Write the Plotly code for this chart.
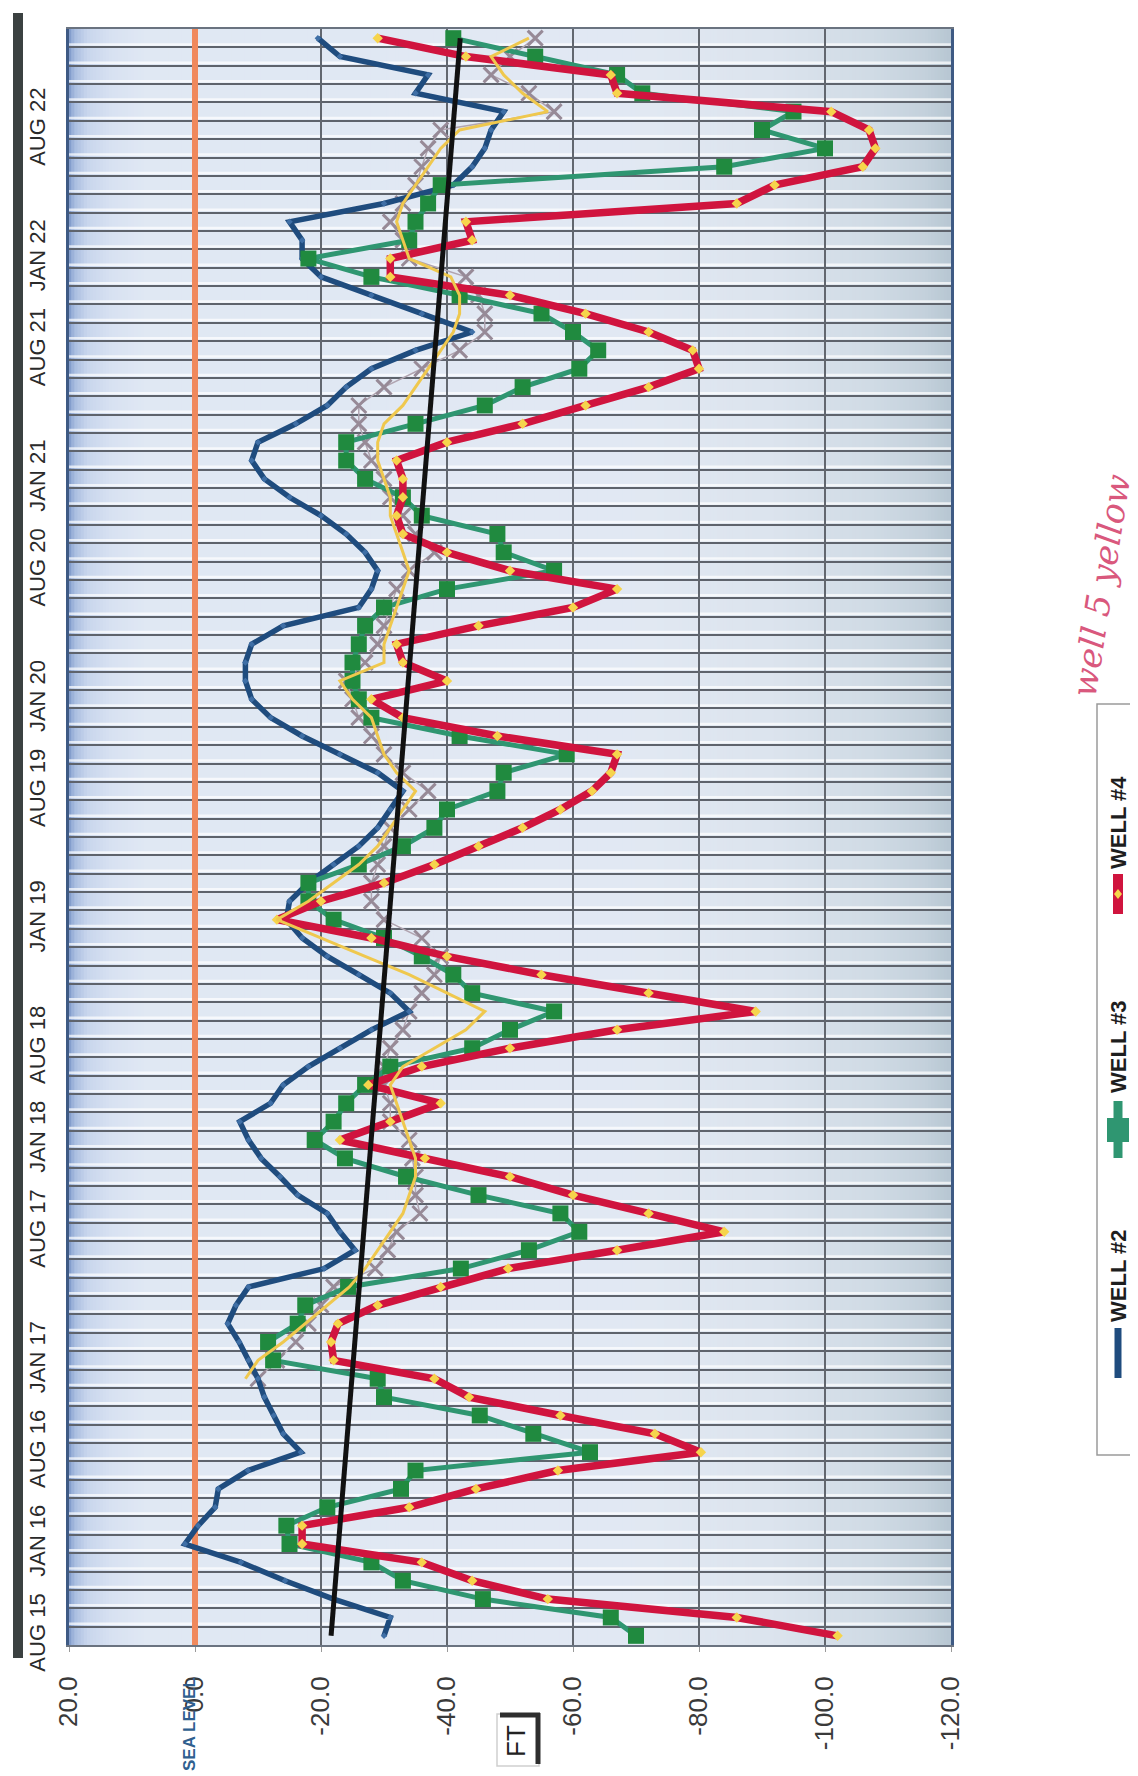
import plotly.graph_objects as go
import numpy as np

# ---------------- data ----------------
N_CAT = 88
CATEGORY = list(range(N_CAT))
DATE_TICK_POS = [0, 5, 10, 15, 22, 27, 32, 39, 46, 51, 58, 63, 70, 75, 82]
DATE_TICK_TEXT = ["AUG 15", "JAN 16", "AUG 16", "JAN 17", "AUG 17", "JAN 18", "AUG 18",
                  "JAN 19", "AUG 19", "JAN 20", "AUG 20", "JAN 21", "AUG 21", "JAN 22", "AUG 22"]
FT_TICKS = [20, 0, -20, -40, -60, -80, -100, -120]
FT_TICK_TEXT = ["20.0", "0.0", "-20.0", "-40.0", "-60.0", "-80.0", "-100.0", "-120.0"]

WELL_2 = [-30, -31, -22, -14.3, -7.3, 1.6, -0.5, -3.2, -3.7, -8.4,
          -16.8, -14, -12.5, -11, -10, -8.5, -7, -5.2, -6.5, -8.5,
          -20.5, -25.4, -23, -21, -16.3, -13.5, -10.5, -8.5, -7.1, -12,
          -14, -18, -23, -28, -34, -31, -26, -21, -17, -14.5,
          -15, -18, -22, -26, -29, -31, -33, -29, -23, -17,
          -12, -9, -8, -8, -9, -14, -26, -28, -29, -27,
          -24, -20, -15, -11, -9, -10, -16, -21, -24, -28,
          -35, -44, -36, -28, -20, -17, -17, -15, -30, -41,
          -44, -46, -47, -49, -35, -37, -23, -19.5]

WELL_3 = [-70, -66, -45.7, -33, -28, -15, -14.5, -21, -32.7, -35,
          -62.7, -53.7, -45.2, -30, -29, -12.4, -11.6, -16.3, -17.5, -24.3,
          -42.2, -53, -61, -58, -45, -33.5, -23.8, -19, -22, -24,
          -27, -31, -44, -50, -57, -44, -41, -36, -30, -22,
          -18, -18, -26, -33, -38, -40, -48, -49, -59, -42,
          -28, -26, -25, -25, -26, -27, -30, -40, -57, -49,
          -48, -36, -33, -27, -24, -24, -35, -46, -52, -61,
          -64, -60, -55, -42, -28, -18, -34, -35, -37, -39,
          -84, -100, -90, -95, -71, -67, -54, -41]

WELL_4 = [-102, -86, -56, -44, -36, -17, -17, -34, -44.6, -57.6,
          -80.3, -73, -58, -43.5, -38, -22, -21.6, -22.7, -29, -39,
          -49.7, -67, -84, -72, -60, -50, -36.5, -23, -31, -39,
          -27.5, -36, -50, -67, -89, -72, -55, -40, -28, -13,
          -20, -30, -38, -45, -52, -58, -63, -66, -67, -48,
          -33, -28, -40, -33, -32, -45, -60, -67, -50, -40,
          -33, -32, -33, -33, -32, -40, -52, -62, -72, -80,
          -79, -72, -62, -50, -31, -31, -44, -43, -86, -92,
          -106, -108, -107, -101, -67, -66, -43, -29]

WELL_5 = [None, None, None, None, None, None, None, None, None, None,
          None, None, None, None, -8, -10, -14, -17.5, -21, -24.5,
          -27, -29, -31, -33, -34, -35, -35, -34, -33, -32,
          -31, -33, -38, -43, -46, -40, -34, -27, -20, -13,
          -18, -22, -26, -29, -31, -33, -35, -32, -30, -29,
          -28, -25, -23, -30, -30, -31, -32, -33, -34, -33,
          -32, -31, -31, -30, -29, -29, -30, -33, -35, -37,
          -39, -41, -42, -42, -40.6, -34, -33, -32, -33, -35,
          -37, -39, -42, -56, -52, -49, -47, -53]

WELL_X = [None, None, None, None, None, None, None, None, None, None,
          None, None, None, None, -10, -13, -16, -18, -20, -22,
          -28.6, -30.6, -32, -35.7, -35, -35, -34.5, -34, -31, -31,
          -30, -30, -31, -33, -34, -36, -38, -39, -36, -30,
          -28, -28, -29, -30, -31, -34, -37, -33, -30, -28,
          -26, -25, -24, -27, -29, -30, -31, -32, -34, -38,
          -35, -33, -31, -30, -28, -27, -26, -26, -30, -36,
          -42, -46, -46, -45, -43, -34, -33, -31, -33, -35,
          -36, -37, -39, -57, -53, -47, -50, -54]

TREND_CAT = [0, 87]
TREND_VAL = [-21.6, -42.1]
SEA_LEVEL = 0.0

# ---------------- figure ----------------
W, H = 1138, 1776
L, R, T, B = 61, 195, 21, 139
PW, PH = W - L - R, H - T - B


def px2paper(xp, yp):
    return (xp - L) / PW, (H - B - yp) / PH


fig = go.Figure()

fig.add_trace(go.Scatter(x=[SEA_LEVEL, SEA_LEVEL], y=[-0.5, N_CAT], mode="lines",
                         line=dict(color="#f0895c", width=6), cliponaxis=False,
                         hoverinfo="skip"))
fig.add_trace(go.Scatter(x=WELL_X, y=CATEGORY, mode="lines+markers",
                         line=dict(color="#b0a4b0", width=1.5),
                         marker=dict(symbol="x-thin", size=15,
                                     line=dict(color="#978a97", width=3))))
fig.add_trace(go.Scatter(x=WELL_2, y=CATEGORY, mode="lines+markers", name="WELL #2",
                         line=dict(color="#1f4c7e", width=5.5),
                         marker=dict(symbol="diamond", size=5, color="#3f6fa6")))
fig.add_trace(go.Scatter(x=WELL_3, y=CATEGORY, mode="lines+markers", name="WELL #3",
                         line=dict(color="#2f9671", width=5),
                         marker=dict(symbol="square", size=16, color="#208a3f")))
fig.add_trace(go.Scatter(x=WELL_4, y=CATEGORY, mode="lines+markers", name="WELL #4",
                         line=dict(color="#d0143e", width=7.5),
                         marker=dict(symbol="diamond", size=8, color="#f6d44c")))
fig.add_trace(go.Scatter(x=WELL_5, y=CATEGORY, mode="lines",
                         line=dict(color="#efc84e", width=3)))
fig.add_trace(go.Scatter(x=TREND_VAL, y=TREND_CAT, mode="lines",
                         line=dict(color="#111111", width=5)))

shapes = []
# background gradient (style only)
stops_v = [20, 19, 17, 13, 8, -70, -92, -108, -116, -120]
stops_c = [(120, 148, 198), (168, 189, 224), (200, 214, 237), (216, 226, 242), (224, 232, 244),
           (226, 233, 243), (220, 228, 238), (208, 219, 229), (196, 209, 220), (184, 199, 211)]
edges = np.linspace(20, -120, 281)
for a, b in zip(edges[:-1], edges[1:]):
    m = (a + b) / 2
    col = [int(np.interp(-m, [-v for v in stops_v], [c[k] for c in stops_c])) for k in range(3)]
    shapes.append(dict(type="rect", xref="x", yref="paper", x0=a + 0.15, x1=b - 0.15, y0=0, y1=1,
                       layer="below", line=dict(width=0),
                       fillcolor="rgb(%d,%d,%d)" % tuple(col)))
for k in range(1, N_CAT):
    yy = k - 0.5 + 0.16
    shapes.append(dict(type="line", xref="paper", yref="y", x0=0, x1=1, y0=yy, y1=yy,
                       layer="below", line=dict(color="rgba(255,255,255,0.7)", width=2.5)))

# scanner edge bar
x0, y0 = px2paper(5, 5)
x1, y1 = px2paper(15, 1650)
shapes.append(dict(type="rect", xref="paper", yref="paper", x0=x0, x1=x1, y0=y1, y1=y0,
                   fillcolor="#3b4141", line=dict(width=0)))

# FT box
fx0, fy0 = px2paper(489, 1706)
fx1, fy1 = px2paper(531, 1758)
shapes.append(dict(type="rect", xref="paper", yref="paper", x0=fx0, x1=fx1, y0=fy1, y1=fy0,
                   fillcolor="white", line=dict(color="#cfcfcf", width=1.5)))
ax_, ay_ = px2paper(530, 1705)
bx_, by_ = px2paper(530, 1756)
shapes.append(dict(type="line", xref="paper", yref="paper", x0=ax_, x1=bx_, y0=ay_, y1=by_,
                   line=dict(color="#2e2e2e", width=5)))
cx_, cy_ = px2paper(492, 1707)
dx_, dy_ = px2paper(532, 1707)
shapes.append(dict(type="line", xref="paper", yref="paper", x0=cx_, x1=dx_, y0=cy_, y1=dy_,
                   line=dict(color="#2e2e2e", width=5)))

# legend box
lx0, ly0 = px2paper(1089, 696)
lx1, ly1 = px2paper(1130, 1447)
shapes.append(dict(type="rect", xref="paper", yref="paper", x0=lx0, x1=lx1, y0=ly1, y1=ly0,
                   fillcolor="white", line=dict(color="#9a9a9a", width=1.5)))


def vline(xp, ya, yb, color, width):
    xa, pa = px2paper(xp, ya)
    _, pb = px2paper(xp, yb)
    shapes.append(dict(type="line", xref="paper", yref="paper", x0=xa, x1=xa, y0=pa, y1=pb,
                       line=dict(color=color, width=width)))


vline(1110, 866, 906, "#d0143e", 10)
vline(1110, 1093, 1150, "#2f9671", 9)
vline(1110, 1320, 1370, "#1f4c7e", 7)
sx0, sy0 = px2paper(1099, 1110)
sx1, sy1 = px2paper(1121, 1134)
shapes.append(dict(type="rect", xref="paper", yref="paper", x0=sx0, x1=sx1, y0=sy1, y1=sy0,
                   fillcolor="#2f9671", line=dict(width=0)))
mx, my = px2paper(1110, 886)
dxp, dyp = 4 / PW, 5 / PH
shapes.append(dict(type="path", xref="paper", yref="paper",
                   path="M %f,%f L %f,%f L %f,%f L %f,%f Z" % (mx - dxp, my, mx, my + dyp,
                                                              mx + dxp, my, mx, my - dyp),
                   fillcolor="#f6d44c", line=dict(width=0)))

annotations = []


def ann(text, xp, yp, size, color, angle=-90, bold=False,
        family="Liberation Sans Narrow, Liberation Sans", style="normal"):
    ax, ay = px2paper(xp, yp)
    annotations.append(dict(text=("<b>%s</b>" % text) if bold else text, x=ax, y=ay,
                            xref="paper", yref="paper", showarrow=False, textangle=angle,
                            font=dict(size=size, color=color, family=family, style=style),
                            xanchor="center", yanchor="middle"))


ann("WELL #4", 1110, 815, 22, "#1e1e1e", bold=True)
ann("WELL #3", 1110, 1039, 22, "#1e1e1e", bold=True)
ann("WELL #2", 1110, 1268, 22, "#1e1e1e", bold=True)
ann("SEA LEVEL", 181, 1716, 17, "#2f5f8f", bold=True)
ann("FT", 508, 1733, 26, "#222222")
ann("well 5 yellow", 1093, 578, 34, "#d9587d", angle=-81, family="DejaVu Serif", style="italic")

fig.update_layout(
    width=W, height=H,
    margin=dict(l=L, r=R, t=T, b=B, pad=0),
    paper_bgcolor="white",
    plot_bgcolor="#dfe7f3",
    showlegend=False,
    font=dict(family="Liberation Sans", color="#333333"),
    shapes=shapes,
    annotations=annotations,
    xaxis=dict(range=[20, -120], tickmode="array", tickvals=FT_TICKS, ticktext=FT_TICK_TEXT,
               tickangle=-90, tickfont=dict(size=26, color="#3a3a3a"),
               showgrid=True, gridcolor="#62676f", gridwidth=1.6, zeroline=False,
               showline=True, linecolor="#6a7380", linewidth=2, mirror=True,
               ticks="outside", ticklen=5, tickcolor="#9a9a9a", ticklabelstandoff=14),
    yaxis=dict(range=[-0.5, N_CAT - 0.5], tickmode="array", tickvals=DATE_TICK_POS,
               ticktext=DATE_TICK_TEXT, tickangle=-90, tickfont=dict(size=22, color="#2a2a2a"),
               showgrid=False, zeroline=False,
               minor=dict(tickmode="linear", tick0=-0.5, dtick=1, showgrid=True,
                          gridcolor="#5e636c", gridwidth=1.6, ticks=""),
               showline=True, linecolor="#3e5a84", linewidth=3, mirror=True,
               ticks="", ticklabelstandoff=12),
)

fig.write_html("out.html")
